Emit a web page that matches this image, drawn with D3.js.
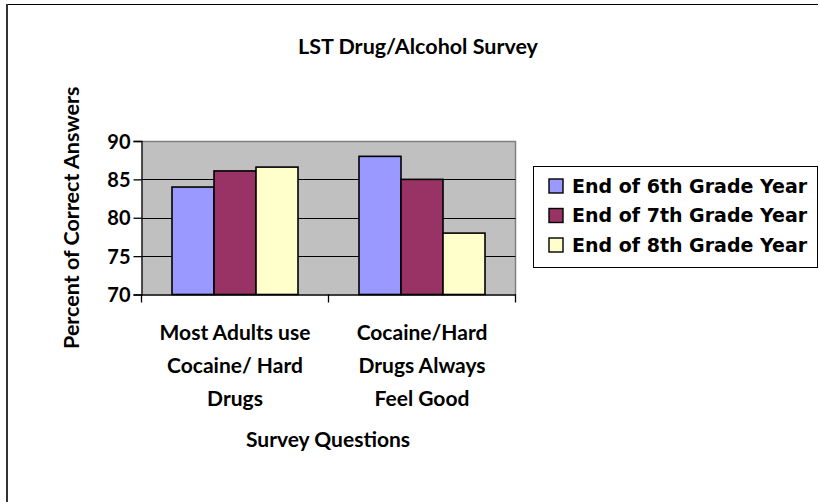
<!DOCTYPE html>
<html>
<head>
<meta charset="utf-8">
<script src="https://cdn.jsdelivr.net/npm/d3@7"></script>
<style>
  html, body { margin: 0; padding: 0; background: #fff; }
  svg { display: block; }
  .lbl { font-family: Lato, "Open Sans", sans-serif; font-weight: bold; fill: #000; }
  .leg { font-family: "DejaVu Sans", Verdana, sans-serif; font-weight: bold; fill: #000; }
</style>
</head>
<body>
<svg id="chart" width="819" height="502"></svg>
<script>
// Survey questions (x categories), each label split into lines
const categories = ["Most Adults use Cocaine/ Hard Drugs", "Cocaine/Hard Drugs Always Feel Good"];
const categoryLines = [["Most Adults use", "Cocaine/ Hard", "Drugs"], ["Cocaine/Hard", "Drugs Always", "Feel Good"]];

// Series: percent of correct answers per grade
const seriesNames = ["End of 6th Grade Year", "End of 7th Grade Year", "End of 8th Grade Year"];
const grade6 = [84, 88];
const grade7 = [86.1, 85];
const grade8 = [86.6, 78];
const seriesColors = ["#9999FF", "#993366", "#FFFFCC"];

const yTicks = [70, 75, 80, 85, 90];

const series = [grade6, grade7, grade8];
const svg = d3.select("#chart");

// Outer frame: top and left edges
svg.append("line")
  .attr("x1", 6).attr("x2", 818).attr("y1", 4.5).attr("y2", 4.5)
  .attr("stroke", "#000").attr("stroke-width", 1.2);
svg.append("line")
  .attr("x1", 7).attr("x2", 7).attr("y1", 4).attr("y2", 502)
  .attr("stroke", "#333").attr("stroke-width", 2);

const plot = { left: 141.5, right: 515.5, top: 141, bottom: 294.5 };

const x0 = d3.scaleBand().domain(categories).range([plot.left, plot.right]).paddingInner(0).paddingOuter(0);
const x1 = d3.scaleBand().domain(seriesNames).range([30.5, x0.bandwidth() - 30.5]).padding(0);
const y = d3.scaleLinear().domain([70, 90]).range([plot.bottom, plot.top]);

// Plot background
svg.append("rect")
  .attr("x", plot.left).attr("y", plot.top)
  .attr("width", plot.right - plot.left).attr("height", plot.bottom - plot.top)
  .attr("fill", "#C0C0C0");

// Plot border (top and right, gray)
svg.append("path")
  .attr("d", `M${plot.left},${plot.top + 0.5} L${plot.right},${plot.top + 0.5} L${plot.right},${plot.bottom}`)
  .attr("fill", "none").attr("stroke", "#808080").attr("stroke-width", 1.5);

// Gridlines
svg.append("g").selectAll("line")
  .data(yTicks.filter(t => t > 70 && t < 90))
  .join("line")
  .attr("x1", plot.left).attr("x2", plot.right)
  .attr("y1", d => Math.round(y(d)) + 0.5).attr("y2", d => Math.round(y(d)) + 0.5)
  .attr("stroke", "#000").attr("stroke-width", 1);

// Bars
const groups = svg.append("g").selectAll("g")
  .data(categories)
  .join("g")
  .attr("transform", d => `translate(${x0(d)},0)`);

groups.selectAll("rect")
  .data((c, ci) => seriesNames.map((s, si) => ({ s, si, v: series[si][ci] })))
  .join("rect")
  .attr("x", d => x1(d.s))
  .attr("y", d => y(d.v))
  .attr("width", x1.bandwidth())
  .attr("height", d => y(70) - y(d.v))
  .attr("fill", d => seriesColors[d.si])
  .attr("stroke", "#000").attr("stroke-width", 1.6);

// Y axis
const yAxis = d3.axisLeft(y).tickValues(yTicks).tickSize(8).tickFormat(d3.format("d"));
const gy = svg.append("g").attr("transform", `translate(${plot.left},0)`).call(yAxis);
gy.select(".domain").attr("stroke", "#000").attr("stroke-width", 1.3);
gy.selectAll(".tick line").attr("stroke", "#000").attr("stroke-width", 1.3);
gy.selectAll(".tick text")
  .attr("class", "lbl").attr("x", -11).attr("dy", "0.36em")
  .style("font-size", "20px");

// X axis: ticks at category boundaries
const xAxis = d3.axisBottom(x0).tickSize(0).tickFormat("");
const gx = svg.append("g").attr("transform", `translate(0,${plot.bottom})`).call(xAxis);
gx.select(".domain").attr("stroke", "#000").attr("stroke-width", 1.3);
gx.selectAll(".tick").remove();
const boundaries = [plot.left, ...categories.map(c => x0(c) + x0.bandwidth())];
gx.selectAll("line.bnd").data(boundaries).join("line")
  .attr("class", "bnd")
  .attr("x1", d => d).attr("x2", d => d)
  .attr("y1", 0).attr("y2", 8)
  .attr("stroke", "#000").attr("stroke-width", 1.3);

// Category labels
svg.append("g").selectAll("text")
  .data(categories)
  .join("text")
  .attr("class", "lbl")
  .attr("text-anchor", "middle")
  .style("font-size", "21px")
  .each(function (c, i) {
    const t = d3.select(this);
    categoryLines[i].forEach((line, li) => {
      t.append("tspan")
        .attr("x", x0(c) + x0.bandwidth() / 2)
        .attr("y", 340 + li * 33)
        .text(line);
    });
  });

// Axis titles
svg.append("text").attr("class", "lbl")
  .attr("x", 328).attr("y", 447)
  .attr("text-anchor", "middle").style("font-size", "21px")
  .text("Survey Questions");

svg.append("text").attr("class", "lbl")
  .attr("transform", `translate(79,${(plot.top + plot.bottom) / 2}) rotate(-90)`)
  .attr("text-anchor", "middle").style("font-size", "21.5px")
  .text("Percent of Correct Answers");

// Chart title
svg.append("text").attr("class", "lbl")
  .attr("x", 418).attr("y", 54)
  .attr("text-anchor", "middle").style("font-size", "21.5px")
  .text("LST Drug/Alcohol Survey");

// Legend
const legend = svg.append("g");
legend.append("rect")
  .attr("x", 533.5).attr("y", 166.5).attr("width", 284).attr("height", 101)
  .attr("fill", "#fff").attr("stroke", "#000").attr("stroke-width", 1);

const items = legend.selectAll("g.item")
  .data(seriesNames)
  .join("g")
  .attr("class", "item")
  .attr("transform", (d, i) => `translate(549,${186 + i * 29.5})`);

items.append("rect")
  .attr("x", 0).attr("y", -7).attr("width", 14).attr("height", 14)
  .attr("fill", (d, i) => seriesColors[i])
  .attr("stroke", "#000").attr("stroke-width", 1.4);

items.append("text")
  .attr("class", "leg")
  .attr("x", 23).attr("dy", "0.36em")
  .style("font-size", "19px")
  .text(d => d);
</script>
</body>
</html>
